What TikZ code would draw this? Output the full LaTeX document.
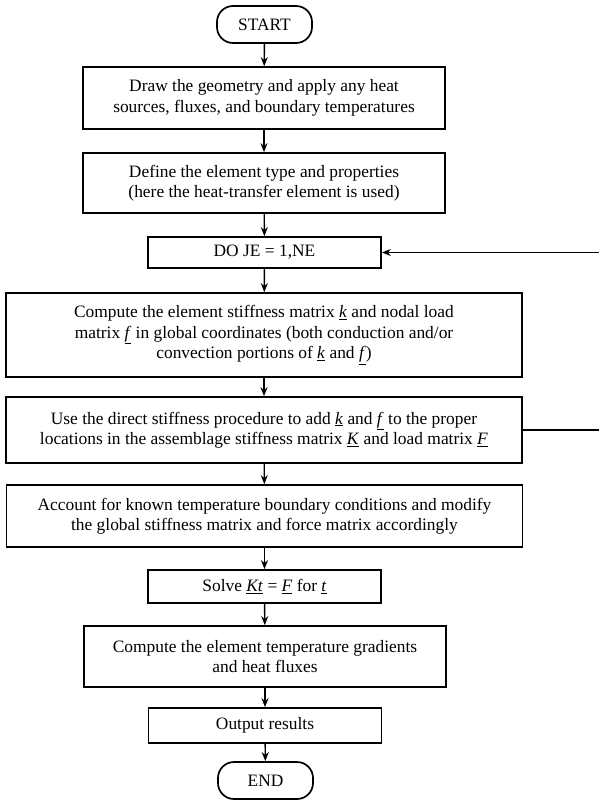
\documentclass[tikz,border=0pt]{standalone}
\usepackage{fontspec}
\setmainfont{Liberation Serif}
\usetikzlibrary{arrows.meta,positioning}
\newcommand{\ulv}[1]{\underline{\textit{#1}}}

\begin{document}
\begin{tikzpicture}[x=1pt,y=-1pt,
  stepbox/.style={rectangle, draw, line width=1.7pt, inner sep=0pt,
                  align=center, font=\fontsize{17.4}{20.4}\selectfont},
  terminal/.style={stepbox, rounded corners=16pt, minimum width=95pt,
                   minimum height=37pt},
  widebox/.style={stepbox, minimum width=362pt},
  fullbox/.style={stepbox, minimum width=516pt},
  smallbox/.style={stepbox, minimum width=233pt},
  flow/.style={-{Stealth[length=9pt,width=7pt]}, line width=1.4pt}
]
\useasboundingbox (0,0) rectangle (599,800);

% main chain
\node[terminal] (start) at (264.5,24.5) {START};
\node[widebox, minimum height=62pt] (geom) at (264,98)
  {Draw the geometry and apply any heat\\sources, fluxes, and boundary temperatures};
\node[widebox, minimum height=60pt] (elem) at (264,183)
  {Define the element type and properties\\(here the heat-transfer element is used)};
\node[smallbox, minimum height=31pt] (doje) at (264.5,252.5) {DO JE = 1,NE};
\node[fullbox, minimum height=84pt] (stiff) at (264,335)
  {Compute the element stiffness matrix \ulv{k} and nodal load\\
   matrix \ulv{f} in global coordinates (both conduction and/or\\
   convection portions of \ulv{k} and \ulv{f})};
\node[fullbox, minimum height=66pt] (assem) at (264,430)
  {Use the direct stiffness procedure to add \ulv{k} and \ulv{f} to the proper\\
   locations in the assemblage stiffness matrix \ulv{K} and load matrix \ulv{F}};
\node[fullbox, minimum height=62pt] (bound) at (264.5,516)
  {Account for known temperature boundary conditions and modify\\
   the global stiffness matrix and force matrix accordingly};
\node[smallbox, minimum height=33pt] (solve) at (264.5,586.5)
  {Solve \ulv{Kt} = \ulv{F} for \ulv{t}};
\node[widebox, minimum height=61pt] (grad) at (265,656.5)
  {Compute the element temperature gradients\\and heat fluxes};
\node[smallbox, minimum height=35pt] (out) at (265,725.5) {Output results};
\node[terminal] (end) at (265.5,780.5) {END};

\foreach \a/\b in {start/geom, geom/elem, elem/doje, doje/stiff, stiff/assem,
                   assem/bound, bound/solve, solve/grad, grad/out, out/end}
  \draw[flow] (\a) -- (\b);

% element loop
\coordinate (loopr) at (599.4,0);
\draw[flow] (assem.east) -| (loopr |- doje.east) -- (doje.east);
\end{tikzpicture}
\end{document}
